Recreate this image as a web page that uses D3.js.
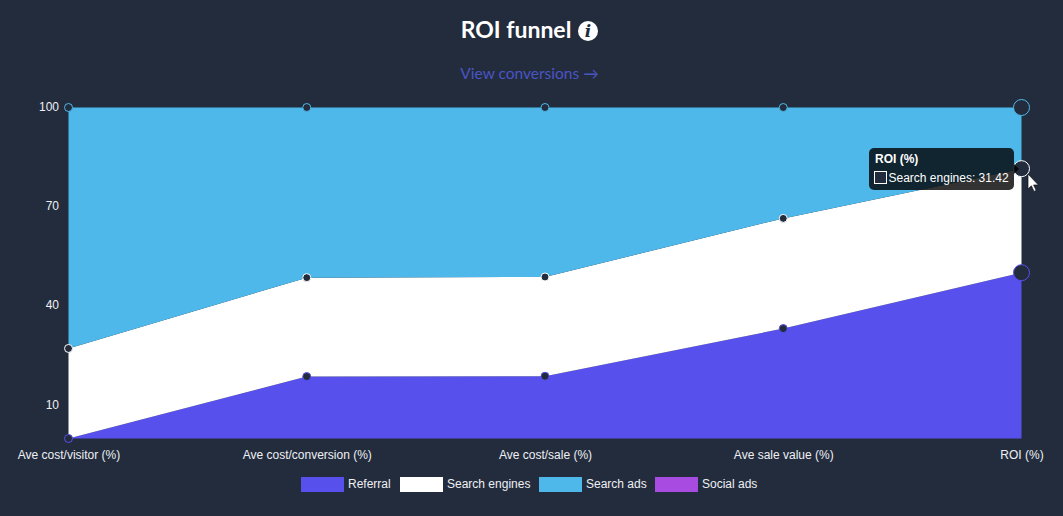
<!DOCTYPE html>
<html>
<head>
<meta charset="utf-8">
<script src="https://cdn.jsdelivr.net/npm/d3@7/dist/d3.min.js"></script>
<style>
html,body{margin:0;padding:0;background:#232c3d;overflow:hidden}
svg{display:block}
text{font-family:"Liberation Sans",Arial,sans-serif}
</style>
</head>
<body>
<svg id="chart" width="1063" height="516"></svg>
<script>
const categories = ["Ave cost/visitor (%)", "Ave cost/conversion (%)", "Ave cost/sale (%)", "Ave sale value (%)", "ROI (%)"];
const seriesNames = ["Referral", "Search engines", "Search ads", "Social ads"];
const seriesColors = ["#5850ec", "#ffffff", "#4fb8ea", "#a84be0"];
const referral = [0, 18.7, 18.8, 33.2, 50.1];
const searchEngines = [27.2, 29.9, 30.0, 33.3, 31.42];
const searchAds = [72.8, 51.4, 51.2, 33.5, 18.48];
const socialAds = [0, 0, 0, 0, 0];
const yTicks = [10, 40, 70, 100];

const rows = categories.map((c, i) => ({
  category: c, Referral: referral[i], "Search engines": searchEngines[i],
  "Search ads": searchAds[i], "Social ads": socialAds[i]
}));
const stacked = d3.stack().keys(seriesNames)(rows);

const svg = d3.select("#chart");
const x = d3.scalePoint().domain(categories).range([68.5, 1021.5]);
const y = d3.scaleLinear().domain([0, 100]).range([438.5, 107.5]);
const color = d3.scaleOrdinal(seriesNames, seriesColors);

// Stacked areas
const area = d3.area()
  .x(d => x(d.data.category))
  .y0(d => y(d[0]))
  .y1(d => y(d[1]));
svg.append("g").selectAll("path").data(stacked).join("path")
  .attr("d", area).attr("fill", d => color(d.key));

// Axes without domain lines or tick marks
const yAxis = d3.axisLeft(y).tickValues(yTicks).tickSize(0).tickPadding(0);
svg.append("g").attr("transform", "translate(59,-1)").call(yAxis)
  .call(g => g.select(".domain").remove())
  .selectAll("text").attr("fill", "#eef0f4").attr("font-size", 12)
  .style("font-family", '"Liberation Sans",Arial,sans-serif');

const xAxis = d3.axisBottom(x).tickSize(0).tickPadding(0);
svg.append("g").attr("transform", "translate(0,450)").call(xAxis)
  .call(g => g.select(".domain").remove())
  .selectAll("text").attr("fill", "#eef0f4").attr("font-size", 12)
  .style("font-family", '"Liberation Sans",Arial,sans-serif');

// Point markers; the last category is the hovered one
const lastIndex = categories.length - 1;
stacked.slice(0, 3).forEach(s => {
  svg.append("g").selectAll("circle").data(s).join("circle")
    .attr("cx", d => x(d.data.category))
    .attr("cy", d => y(d[1]))
    .attr("r", (d, i) => i === lastIndex ? 8 : 4)
    .attr("fill", "#232c3d")
    .attr("stroke", color(s.key))
    .attr("stroke-width", 1);
});

// Title
svg.append("text").attr("x", 516).attr("y", 38)
  .attr("text-anchor", "middle").attr("fill", "#fff")
  .attr("font-size", 23).attr("font-weight", 700)
  .style("font-family", "Lato,sans-serif").text("ROI funnel");
svg.append("circle").attr("cx", 588).attr("cy", 31).attr("r", 10).attr("fill", "#fff");
svg.append("text").attr("x", 588).attr("y", 37).attr("text-anchor", "middle")
  .attr("fill", "#232c3d").attr("font-size", 17).attr("font-weight", 700)
  .attr("font-style", "italic").style("font-family", '"DejaVu Serif",serif').text("i");

// Link under the title
svg.append("text").attr("x", 529.5).attr("y", 79).attr("text-anchor", "middle")
  .attr("fill", "#4a55c4").attr("font-size", 15.5)
  .style("font-family", "Lato,sans-serif").text("View conversions →");

// Legend
const legendX = [301, 400, 539, 655];
const legend = svg.append("g").selectAll("g").data(seriesNames).join("g")
  .attr("transform", (d, i) => `translate(${legendX[i]},477)`);
legend.append("rect").attr("width", 43).attr("height", 15).attr("fill", d => color(d));
legend.append("text").attr("x", 47).attr("y", 11).attr("fill", "#eef0f4")
  .attr("font-size", 12).text(d => d);

// Tooltip for the hovered point
const tip = svg.append("g").attr("transform", "translate(869,148)");
tip.append("rect").attr("width", 145).attr("height", 42).attr("rx", 5)
  .attr("fill", "#000").attr("fill-opacity", 0.8);
tip.append("path").attr("d", "M145,16l5,5l-5,5z").attr("fill", "#000").attr("fill-opacity", 0.8);
tip.append("text").attr("x", 6).attr("y", 15).attr("fill", "#fff")
  .attr("font-size", 12).attr("font-weight", 700).text(categories[lastIndex]);
tip.append("rect").attr("x", 5.5).attr("y", 23.5).attr("width", 12).attr("height", 12)
  .attr("fill", "#232c3d").attr("stroke", "#fff").attr("stroke-width", 1);
tip.append("text").attr("x", 19.5).attr("y", 34).attr("fill", "#fff").attr("font-size", 12)
  .text(`${seriesNames[1]}: ${searchEngines[lastIndex]}`);

// Mouse pointer
svg.append("path")
  .attr("d", "M1028,174v15l3.4,-3.2l2.6,5.6l2.2,-1l-2.6,-5.4h4.8z")
  .attr("fill", "#fff").attr("stroke", "#111").attr("stroke-width", 0.7);
</script>
</body>
</html>
